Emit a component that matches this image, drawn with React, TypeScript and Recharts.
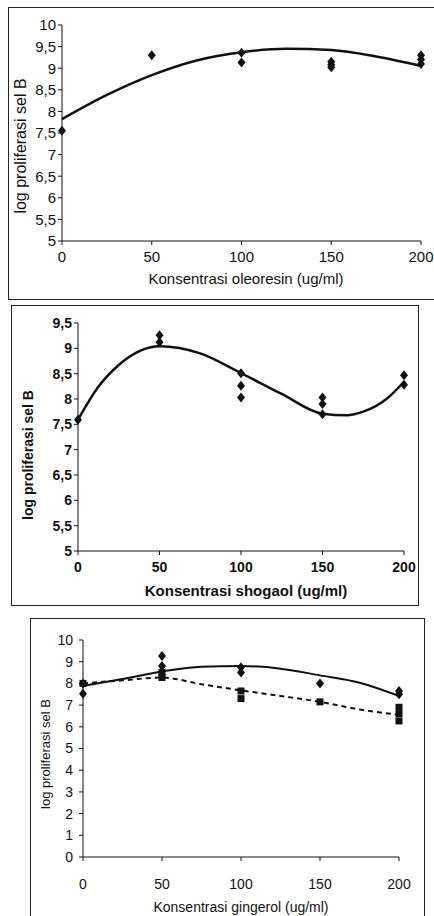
import React from "react";
import {
  ComposedChart,
  Line,
  Scatter,
  XAxis,
  YAxis,
} from "recharts";

// konsentrasi (ug/ml)
const X_TICKS = [0, 50, 100, 150, 200];

// panel 1: oleoresin
const OLEO_Y_TICKS = [5, 5.5, 6, 6.5, 7, 7.5, 8, 8.5, 9, 9.5, 10];
const OLEO_POINTS = [
  { x: 0, y: 7.55 },
  { x: 50, y: 9.3 },
  { x: 100, y: 9.36 },
  { x: 100, y: 9.13 },
  { x: 150, y: 9.15 },
  { x: 150, y: 9.08 },
  { x: 150, y: 9.02 },
  { x: 200, y: 9.3 },
  { x: 200, y: 9.2 },
  { x: 200, y: 9.1 },
];
const OLEO_TREND = [
  { x: 0, y: 7.82 },
  { x: 25, y: 8.38 },
  { x: 50, y: 8.84 },
  { x: 75, y: 9.18 },
  { x: 100, y: 9.37 },
  { x: 125, y: 9.45 },
  { x: 150, y: 9.42 },
  { x: 175, y: 9.27 },
  { x: 200, y: 9.05 },
];

// panel 2: shogaol
const SHOG_Y_TICKS = [5, 5.5, 6, 6.5, 7, 7.5, 8, 8.5, 9, 9.5];
const SHOG_POINTS = [
  { x: 0, y: 7.59 },
  { x: 50, y: 9.26 },
  { x: 50, y: 9.12 },
  { x: 100, y: 8.51 },
  { x: 100, y: 8.26 },
  { x: 100, y: 8.03 },
  { x: 150, y: 8.03 },
  { x: 150, y: 7.9 },
  { x: 150, y: 7.7 },
  { x: 200, y: 8.47 },
  { x: 200, y: 8.28 },
];
const SHOG_TREND = [
  { x: 0, y: 7.59 },
  { x: 12.5, y: 8.24 },
  { x: 25, y: 8.67 },
  { x: 50, y: 9.04 },
  { x: 75, y: 8.9 },
  { x: 100, y: 8.51 },
  { x: 125, y: 8.1 },
  { x: 150, y: 7.71 },
  { x: 165, y: 7.68 },
  { x: 175, y: 7.75 },
  { x: 190, y: 8.02 },
  { x: 200, y: 8.34 },
];

// panel 3: gingerol (two series)
const GING_Y_TICKS = [0, 1, 2, 3, 4, 5, 6, 7, 8, 9, 10];
const GING_A_POINTS = [
  { x: 0, y: 7.98 },
  { x: 0, y: 7.52 },
  { x: 50, y: 9.26 },
  { x: 50, y: 8.8 },
  { x: 100, y: 8.75 },
  { x: 100, y: 8.5 },
  { x: 150, y: 8.0 },
  { x: 200, y: 7.65 },
  { x: 200, y: 7.5 },
];
const GING_A_TREND = [
  { x: 0, y: 7.88 },
  { x: 25, y: 8.2 },
  { x: 50, y: 8.55 },
  { x: 75, y: 8.77 },
  { x: 100, y: 8.8 },
  { x: 125, y: 8.68 },
  { x: 150, y: 8.37 },
  { x: 175, y: 8.03 },
  { x: 200, y: 7.42 },
];
const GING_B_POINTS = [
  { x: 0, y: 8.0 },
  { x: 50, y: 8.5 },
  { x: 50, y: 8.27 },
  { x: 100, y: 7.65 },
  { x: 100, y: 7.3 },
  { x: 150, y: 7.15 },
  { x: 200, y: 6.9 },
  { x: 200, y: 6.6 },
  { x: 200, y: 6.27 },
];
const GING_B_TREND = [
  { x: 0, y: 8.0 },
  { x: 25, y: 8.14 },
  { x: 50, y: 8.27 },
  { x: 75, y: 7.96 },
  { x: 100, y: 7.68 },
  { x: 125, y: 7.42 },
  { x: 150, y: 7.15 },
  { x: 175, y: 6.8 },
  { x: 200, y: 6.55 },
];

const INK = "#111";
const fmt = (v: number) => String(v).replace(".", ",");

function Diamond(props: any) {
  const { cx, cy } = props;
  if (cx == null || cy == null) return null;
  return (
    <polygon
      points={`${cx},${cy - 5} ${cx + 4},${cy} ${cx},${cy + 5} ${cx - 4},${cy}`}
      fill={INK}
    />
  );
}

function Square(props: any) {
  const { cx, cy } = props;
  if (cx == null || cy == null) return null;
  return <rect x={cx - 3.5} y={cy - 3.5} width={7} height={7} fill={INK} />;
}

function AbsText({
  text,
  x,
  y,
  size,
  weight = 400,
  family,
  rotate = false,
}: {
  text: string;
  x: number;
  y: number;
  size: number;
  weight?: number;
  family: string;
  rotate?: boolean;
}) {
  return (
    <div
      style={{
        position: "absolute",
        left: x,
        top: y,
        transform: `translate(-50%, -50%)${rotate ? " rotate(-90deg)" : ""}`,
        whiteSpace: "nowrap",
        fontSize: size,
        fontWeight: weight,
        fontFamily: family,
        color: INK,
        lineHeight: 1,
      }}
    >
      {text}
    </div>
  );
}

function Frame({
  left,
  top,
  width,
  height,
  sides,
}: {
  left: number;
  top: number;
  width: number;
  height: number;
  sides: string;
}) {
  const b = "1px solid #222";
  return (
    <div
      style={{
        position: "absolute",
        left,
        top,
        width,
        height,
        borderLeft: sides.includes("l") ? b : undefined,
        borderTop: sides.includes("t") ? b : undefined,
        borderRight: sides.includes("r") ? b : undefined,
        borderBottom: sides.includes("b") ? b : undefined,
      }}
    />
  );
}

export default function App() {
  const f1 = "'Liberation Sans', Arial, sans-serif";
  const f3 = "'Liberation Sans Narrow', 'Liberation Sans', Arial, sans-serif";
  return (
    <div
      style={{
        position: "absolute",
        left: 0,
        top: 0,
        width: 434,
        height: 916,
        background: "#fff",
        overflow: "hidden",
      }}
    >
      <style>{`body{margin:0;background:#fff}`}</style>

      <Frame left={8} top={7} width={440} height={291} sides="ltb" />
      <Frame left={11} top={305} width={406} height={299} sides="ltrb" />
      <Frame left={30} top={618} width={393} height={320} sides="ltr" />

      {/* panel 1 */}
      <div style={{ position: "absolute", left: 0, top: 0 }}>
        <ComposedChart
          width={434}
          height={300}
          margin={{ top: 25, right: 13, bottom: 29, left: 0 }}
        >
          <XAxis
            dataKey="x"
            type="number"
            domain={[0, 200]}
            ticks={X_TICKS}
            height={30}
            tickSize={4}
            tickMargin={6}
            stroke={INK}
            tick={{ fontSize: 15, fill: INK, fontFamily: f1 }}
            interval={0}
          />
          <YAxis
            dataKey="y"
            type="number"
            domain={[5, 10]}
            ticks={OLEO_Y_TICKS}
            width={62}
            tickSize={4}
            stroke={INK}
            tickFormatter={fmt}
            tick={{ fontSize: 15, fill: INK, fontFamily: f1 }}
            interval={0}
          />
          <Line
            data={OLEO_TREND}
            dataKey="y"
            type="monotone"
            stroke={INK}
            strokeWidth={2.5}
            dot={false}
            isAnimationActive={false}
          />
          <Scatter
            data={OLEO_POINTS}
            dataKey="y"
            shape={<Diamond />}
            isAnimationActive={false}
          />
        </ComposedChart>
      </div>
      <AbsText text="log proliferasi sel B" x={21} y={146} size={16} family={f1} rotate />
      <AbsText text="Konsentrasi oleoresin (ug/ml)" x={246} y={278} size={15} family={f1} />

      {/* panel 2 */}
      <div style={{ position: "absolute", left: 0, top: 300 }}>
        <ComposedChart
          width={434}
          height={305}
          margin={{ top: 23, right: 30, bottom: 24, left: 0 }}
        >
          <XAxis
            dataKey="x"
            type="number"
            domain={[0, 200]}
            ticks={X_TICKS}
            height={30}
            tickSize={4}
            tickMargin={7}
            stroke={INK}
            tick={{ fontSize: 14, fill: INK, fontFamily: f1, fontWeight: 700 }}
            interval={0}
          />
          <YAxis
            dataKey="y"
            type="number"
            domain={[5, 9.5]}
            ticks={SHOG_Y_TICKS}
            width={78}
            tickSize={4}
            stroke={INK}
            tickFormatter={fmt}
            tick={{ fontSize: 14, fill: INK, fontFamily: f1, fontWeight: 700 }}
            interval={0}
          />
          <Line
            data={SHOG_TREND}
            dataKey="y"
            type="monotone"
            stroke={INK}
            strokeWidth={2.5}
            dot={false}
            isAnimationActive={false}
          />
          <Scatter
            data={SHOG_POINTS}
            dataKey="y"
            shape={<Diamond />}
            isAnimationActive={false}
          />
        </ComposedChart>
      </div>
      <AbsText text="log proliferasi sel B" x={28} y={455} size={14} weight={700} family={f1} rotate />
      <AbsText text="Konsentrasi shogaol (ug/ml)" x={246} y={590} size={15} weight={700} family={f1} />

      {/* panel 3 */}
      <div style={{ position: "absolute", left: 0, top: 610 }}>
        <ComposedChart
          width={434}
          height={306}
          margin={{ top: 30, right: 35, bottom: 19, left: 0 }}
        >
          <XAxis
            dataKey="x"
            type="number"
            domain={[0, 200]}
            ticks={X_TICKS}
            height={40}
            tickSize={4}
            tickMargin={18}
            stroke={INK}
            tick={{ fontSize: 14, fill: INK, fontFamily: f3 }}
            interval={0}
          />
          <YAxis
            dataKey="y"
            type="number"
            domain={[0, 10]}
            ticks={GING_Y_TICKS}
            width={83}
            tickSize={4}
            tickMargin={6}
            stroke={INK}
            tickFormatter={fmt}
            tick={{ fontSize: 14, fill: INK, fontFamily: f3 }}
            interval={0}
          />
          <Line
            data={GING_A_TREND}
            dataKey="y"
            type="monotone"
            stroke={INK}
            strokeWidth={2}
            dot={false}
            isAnimationActive={false}
          />
          <Line
            data={GING_B_TREND}
            dataKey="y"
            type="monotone"
            stroke={INK}
            strokeWidth={2}
            strokeDasharray="5 4"
            dot={false}
            isAnimationActive={false}
          />
          <Scatter
            data={GING_A_POINTS}
            dataKey="y"
            shape={<Diamond />}
            isAnimationActive={false}
          />
          <Scatter
            data={GING_B_POINTS}
            dataKey="y"
            shape={<Square />}
            isAnimationActive={false}
          />
        </ComposedChart>
      </div>
      <AbsText text="log proliferasi sel B" x={45} y={754} size={13} family={f3} rotate />
      <AbsText text="Konsentrasi gingerol (ug/ml)" x={241} y={907} size={14} family={f3} />
    </div>
  );
}
